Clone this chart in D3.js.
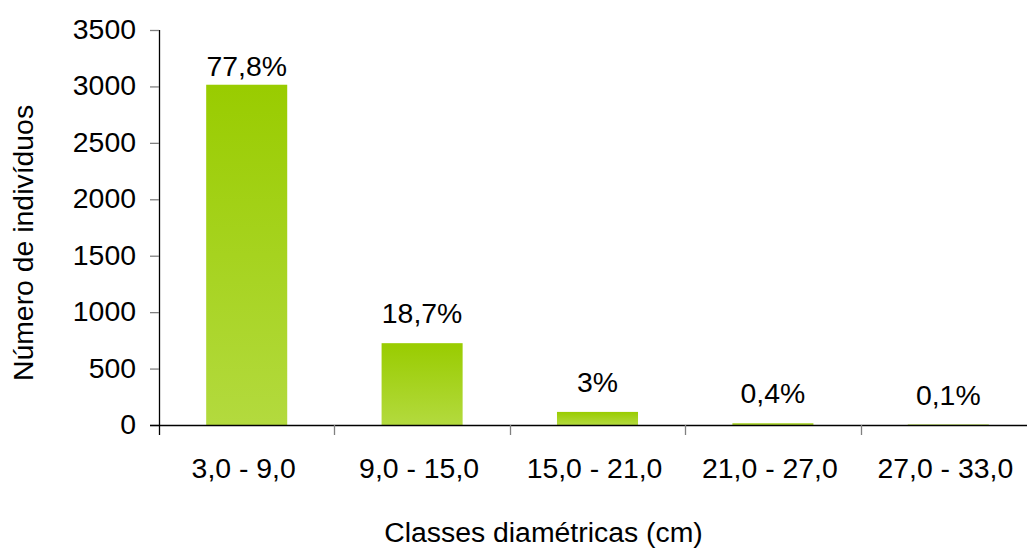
<!DOCTYPE html>
<html>
<head>
<meta charset="utf-8">
<script src="https://cdn.jsdelivr.net/npm/d3@7"></script>
<style>
  html, body { margin: 0; padding: 0; background: #fff; }
  svg { display: block; }
  text { font-family: "Liberation Sans", Arial, sans-serif; fill: #000; }
</style>
</head>
<body>
<svg id="chart" width="1027" height="548"></svg>
<script>
// Diameter classes (cm) and number of individuals per class
const categories = ["3,0 - 9,0", "9,0 - 15,0", "15,0 - 21,0", "21,0 - 27,0", "27,0 - 33,0"];
const counts = [3015, 725, 116, 15, 4];
const percentLabels = ["77,8%", "18,7%", "3%", "0,4%", "0,1%"];
const yTicks = [0, 500, 1000, 1500, 2000, 2500, 3000, 3500];
const xTitle = "Classes diamétricas (cm)";
const yTitle = "Número de indivíduos";

const svg = d3.select("#chart");
const fontSize = 28.4;

const x = d3.scaleBand().domain(categories).range([159, 1036]).padding(0);
const y = d3.scaleLinear().domain([0, 3500]).range([425, 30]);

// vertical gradient for the bars
const defs = svg.append("defs");
const grad = defs.append("linearGradient")
  .attr("id", "barGrad").attr("x1", 0).attr("y1", 0).attr("x2", 0).attr("y2", 1);
grad.append("stop").attr("offset", "0%").attr("stop-color", "#99cc00");
grad.append("stop").attr("offset", "100%").attr("stop-color", "#b3da3e");

const barW = x.bandwidth() * 0.462;

// bars
svg.append("g").selectAll("rect")
  .data(categories)
  .join("rect")
  .attr("x", (c) => x(c) + (x.bandwidth() - barW) / 2)
  .attr("y", (c, i) => y(counts[i]))
  .attr("width", barW)
  .attr("height", (c, i) => y(0) - y(counts[i]))
  .attr("fill", "url(#barGrad)");

// percentage labels above the bars
svg.append("g").selectAll("text")
  .data(categories)
  .join("text")
  .attr("x", (c) => x(c) + x.bandwidth() / 2)
  .attr("y", (c, i) => y(counts[i]) - (i === 0 ? 9 : 20))
  .attr("text-anchor", "middle")
  .style("font-size", fontSize + "px")
  .text((c, i) => percentLabels[i]);

// y axis
const yAxis = svg.append("g")
  .attr("transform", `translate(${x.range()[0]},0)`)
  .call(d3.axisLeft(y).tickValues(yTicks).tickSize(9).tickPadding(14).tickFormat(d3.format("d")));
yAxis.select(".domain").attr("stroke", "#000").attr("stroke-width", 1.3)
  .attr("d", `M0.5,${y(3500)}V${y(0) + 10}`);
yAxis.selectAll(".tick line").attr("stroke", "#808080").attr("stroke-width", 1.3);
yAxis.selectAll(".tick text")
  .style("font-size", fontSize + "px")
  .style("font-family", "'Liberation Sans', Arial, sans-serif")
  .attr("dy", "0.3em");

// x axis: baseline with ticks on class boundaries
const xg = svg.append("g");
xg.append("line")
  .attr("x1", x.range()[0] - 9).attr("x2", x.range()[1])
  .attr("y1", y(0) + 0.5).attr("y2", y(0) + 0.5)
  .attr("stroke", "#000").attr("stroke-width", 1.3);
const boundaries = categories.slice(1).map((c) => x(c)).concat([x.range()[1]]);
xg.selectAll("line.tk")
  .data(boundaries)
  .join("line")
  .attr("class", "tk")
  .attr("x1", (d) => Math.round(d) + 0.5).attr("x2", (d) => Math.round(d) + 0.5)
  .attr("y1", y(0)).attr("y2", y(0) + 10)
  .attr("stroke", "#808080").attr("stroke-width", 1.3);
xg.selectAll("text")
  .data(categories)
  .join("text")
  .attr("x", (c) => x(c) + x.bandwidth() / 2 - 3)
  .attr("y", 478)
  .attr("text-anchor", "middle")
  .style("font-size", fontSize + "px")
  .text((c) => c);

// axis titles
svg.append("text")
  .attr("x", 543.5).attr("y", 541.5)
  .attr("text-anchor", "middle")
  .style("font-size", fontSize + "px")
  .text(xTitle);

svg.append("text")
  .attr("transform", "translate(33,243) rotate(-90)")
  .attr("text-anchor", "middle")
  .style("font-size", fontSize + "px")
  .text(yTitle);
</script>
</body>
</html>
